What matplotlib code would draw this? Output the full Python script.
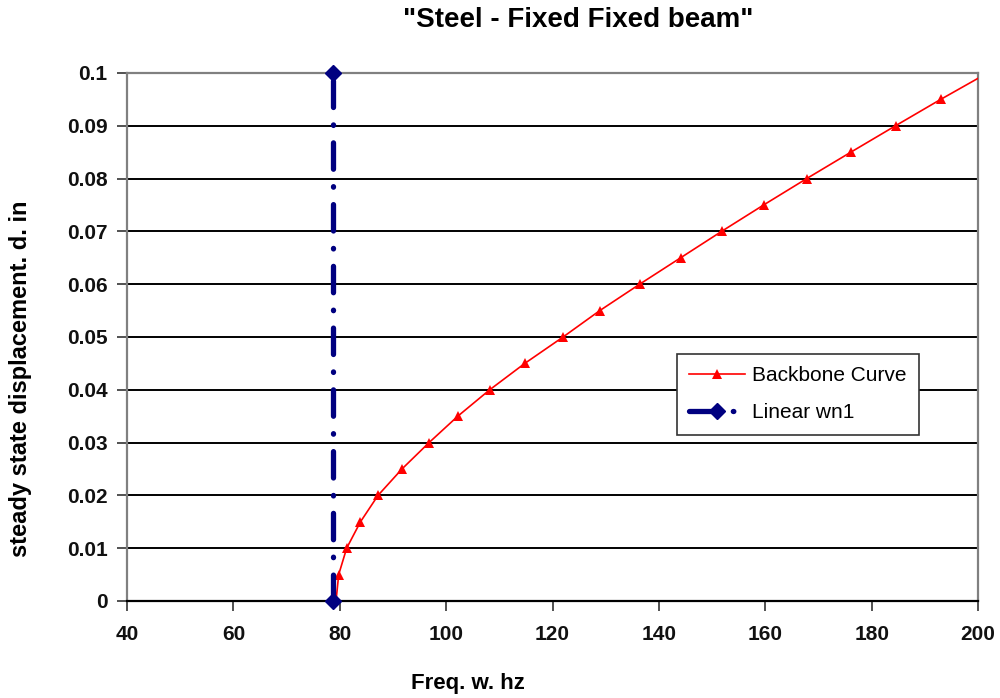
import numpy as np
import matplotlib
matplotlib.use('Agg')
import matplotlib.pyplot as plt

plt.rcParams['font.family'] = ['Liberation Sans', 'DejaVu Sans']

# backbone curve: displacement (in) vs frequency (hz)
disp = [0.0, 0.005, 0.01, 0.015, 0.02, 0.025, 0.03, 0.035, 0.04, 0.045,
        0.05, 0.055, 0.06, 0.065, 0.07, 0.075, 0.08, 0.085, 0.09, 0.095,
        0.1]
freq = [79.3, 79.8, 81.3, 83.9, 87.2, 91.7, 96.8, 102.2, 108.2, 114.8,
        122.0, 128.9, 136.4, 144.1, 151.8, 159.7, 167.8, 176.1, 184.5, 193.0,
        201.8]

# linear natural frequency wn1
wn1_freq = [78.7, 78.7]
wn1_disp = [0.0, 0.1]

yticks = [0.0, 0.01, 0.02, 0.03, 0.04, 0.05, 0.06, 0.07, 0.08, 0.09, 0.1]
ytick_labels = ['0', '0.01', '0.02', '0.03', '0.04', '0.05', '0.06',
                '0.07', '0.08', '0.09', '0.1']
xticks = [40, 60, 80, 100, 120, 140, 160, 180, 200]

fig = plt.figure(figsize=(10, 6.98), dpi=100)
ax = fig.add_axes([0.127, 0.139, 0.851, 0.7565])

for y in yticks[1:-1]:
    ax.axhline(y, color='black', lw=1.4, zorder=1)

ax.plot(freq, disp, color='red', lw=1.2, marker='^', markersize=6.5,
        markeredgewidth=0, label='Backbone Curve', zorder=3)
ax.plot(wn1_freq, wn1_disp, color='#000080', lw=3.8, marker='D',
        markersize=8, dashes=(5, 3.3, 0.1, 3.3), dash_capstyle='round',
        label='Linear wn1', zorder=4, clip_on=False)

ax.set_xlim(40, 200)
ax.set_ylim(0, 0.1)
ax.set_xticks(xticks)
ax.set_xticklabels([str(x) for x in xticks], fontsize=15, fontweight='bold',
                   color='#111111')
ax.set_yticks(yticks)
ax.set_yticklabels(ytick_labels, fontsize=15, fontweight='bold',
                   color='#111111')
ax.tick_params(axis='both', direction='out', length=7, width=1.2,
               color='#333333')
ax.tick_params(axis='y', pad=7)
ax.tick_params(axis='x', pad=10)

for side in ['left', 'top', 'right']:
    ax.spines[side].set_color('#808080')
    ax.spines[side].set_linewidth(1.6)
ax.spines['bottom'].set_color('black')
ax.spines['bottom'].set_linewidth(1.6)

ax.set_xlabel('Freq. w. hz', fontsize=16, fontweight='bold')
ax.xaxis.set_label_coords(0.40, -0.137)
ax.set_ylabel('steady state displacement. d. in', fontsize=17,
              fontweight='bold')
ax.yaxis.set_label_coords(-0.112, 0.42)
fig.text(0.578, 1 - 20 / 698, '"Steel - Fixed Fixed beam"', fontsize=20,
         fontweight='bold', ha='center', va='center')

leg = ax.legend(loc='upper left', bbox_to_anchor=(0.646, 0.468),
                fontsize=15, frameon=True, fancybox=False, handlelength=2.7,
                borderpad=0.6, labelspacing=0.85, handletextpad=0.3,
                borderaxespad=0)
leg.get_frame().set_edgecolor('#333333')
leg.get_frame().set_linewidth(1.2)
leg.get_frame().set_alpha(1)

fig.savefig('out.png', dpi=100)
